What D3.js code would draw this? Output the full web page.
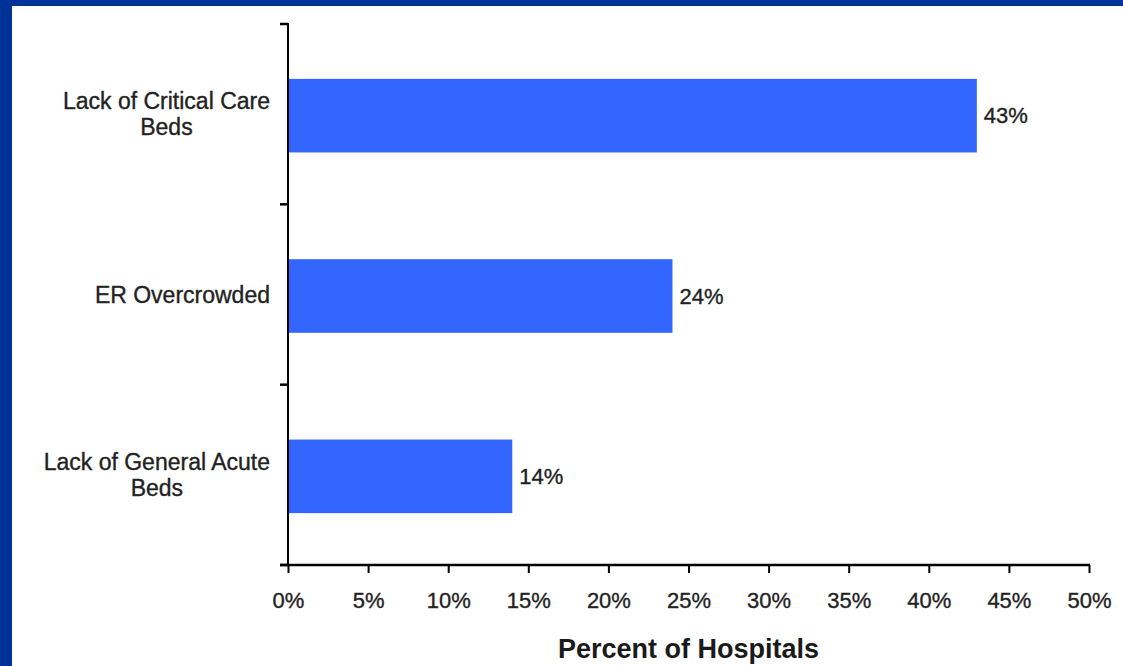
<!DOCTYPE html>
<html>
<head>
<meta charset="utf-8">
<script src="https://cdn.jsdelivr.net/npm/d3@7"></script>
<style>
  html, body { margin: 0; padding: 0; background: #003399; }
  svg { display: block; }
</style>
</head>
<body>
<svg id="chart" width="1123" height="666"></svg>
<script>
// Reasons hospitals report for diversion
const categories = [
  ["Lack of Critical Care", "Beds"],
  ["ER Overcrowded"],
  ["Lack of General Acute", "Beds"]
];
const values = [43, 24, 14];
const xTicks = [0, 5, 10, 15, 20, 25, 30, 35, 40, 45, 50];
const xTitle = "Percent of Hospitals";

const W = 1123, H = 666;
const svg = d3.select("#chart");
const font = "'Liberation Sans', Arial, sans-serif";
const ink = "#222";

// slide frame
svg.append("rect").attr("width", W).attr("height", H).attr("fill", "#003399");
svg.append("rect").attr("x", 12).attr("y", 6).attr("width", W - 12).attr("height", H - 6).attr("fill", "#ffffff");

const plot = { left: 288, right: 1089, top: 24, bottom: 565 };
const keys = categories.map((c, i) => i);

const x = d3.scaleLinear().domain([0, 50]).range([plot.left, plot.right]);
const pad = 0.592;
// category bands; bars sit a touch below the boundary grid
const y = d3.scaleBand().domain(keys).range([plot.top + 1.5, plot.bottom + 1.5])
  .paddingInner(pad).paddingOuter(pad / 2);

// bars
svg.append("g").selectAll("rect").data(values).join("rect")
  .attr("x", x(0))
  .attr("y", (d, i) => y(i))
  .attr("width", d => x(d) - x(0))
  .attr("height", y.bandwidth())
  .attr("fill", "#3366ff");

// shared look for the regular labels
function regular(sel, size) {
  sel.attr("font-family", font).attr("font-size", size).attr("fill", ink)
    .attr("stroke", ink).attr("stroke-width", 0.35);
}

// value labels
svg.append("g").selectAll("text").data(values).join("text")
  .attr("x", d => x(d) + 7)
  .attr("y", (d, i) => y(i) + y.bandwidth() / 2 + 7.5)
  .call(regular, 22)
  .text(d => d + "%");

// x axis
const xAxis = d3.axisBottom(x).tickValues(xTicks).tickSize(8).tickSizeOuter(0)
  .tickFormat(d => d + "%");
const gx = svg.append("g").attr("transform", `translate(0,${plot.bottom})`).call(xAxis);
gx.select(".domain").remove();
gx.selectAll(".tick line").attr("stroke", "#000").attr("stroke-width", 2);
gx.selectAll(".tick text").call(regular, 22).attr("dy", null).attr("y", 43);
svg.append("line").attr("x1", plot.left - 8).attr("x2", plot.right + 1)
  .attr("y1", plot.bottom).attr("y2", plot.bottom)
  .attr("stroke", "#000").attr("stroke-width", 2.5);

// y axis: line with ticks on category boundaries
const yb = d3.scaleLinear().domain([0, keys.length]).range([plot.top, plot.bottom]);
const bounds = d3.range(keys.length + 1).map(yb);
svg.append("line").attr("x1", plot.left).attr("x2", plot.left)
  .attr("y1", plot.top - 1).attr("y2", plot.bottom)
  .attr("stroke", "#000").attr("stroke-width", 2);
svg.append("g").selectAll("line").data(bounds).join("line")
  .attr("x1", plot.left - 8).attr("x2", plot.left)
  .attr("y1", d => d).attr("y2", d => d)
  .attr("stroke", "#000").attr("stroke-width", 2.5);

// category labels: lines centred on each other, block right-aligned to the axis
const labelRight = plot.left - 18;
const lineH = 26;
categories.forEach((lines, i) => {
  const g = svg.append("g");
  const cy = (yb(i) + yb(i + 1)) / 2;
  const texts = lines.map((t, j) => g.append("text")
    .attr("y", cy + (j - (lines.length - 1) / 2) * lineH + 8)
    .call(regular, 23)
    .attr("text-anchor", "middle")
    .text(t));
  const maxW = d3.max(texts, t => t.node().getComputedTextLength());
  texts.forEach(t => t.attr("x", labelRight - maxW / 2));
});

// axis title
svg.append("text")
  .attr("x", (plot.left + plot.right) / 2)
  .attr("y", 658)
  .attr("text-anchor", "middle")
  .attr("font-family", font).attr("font-size", 27).attr("font-weight", "bold")
  .attr("fill", "#1a1a1a")
  .text(xTitle);
</script>
</body>
</html>
